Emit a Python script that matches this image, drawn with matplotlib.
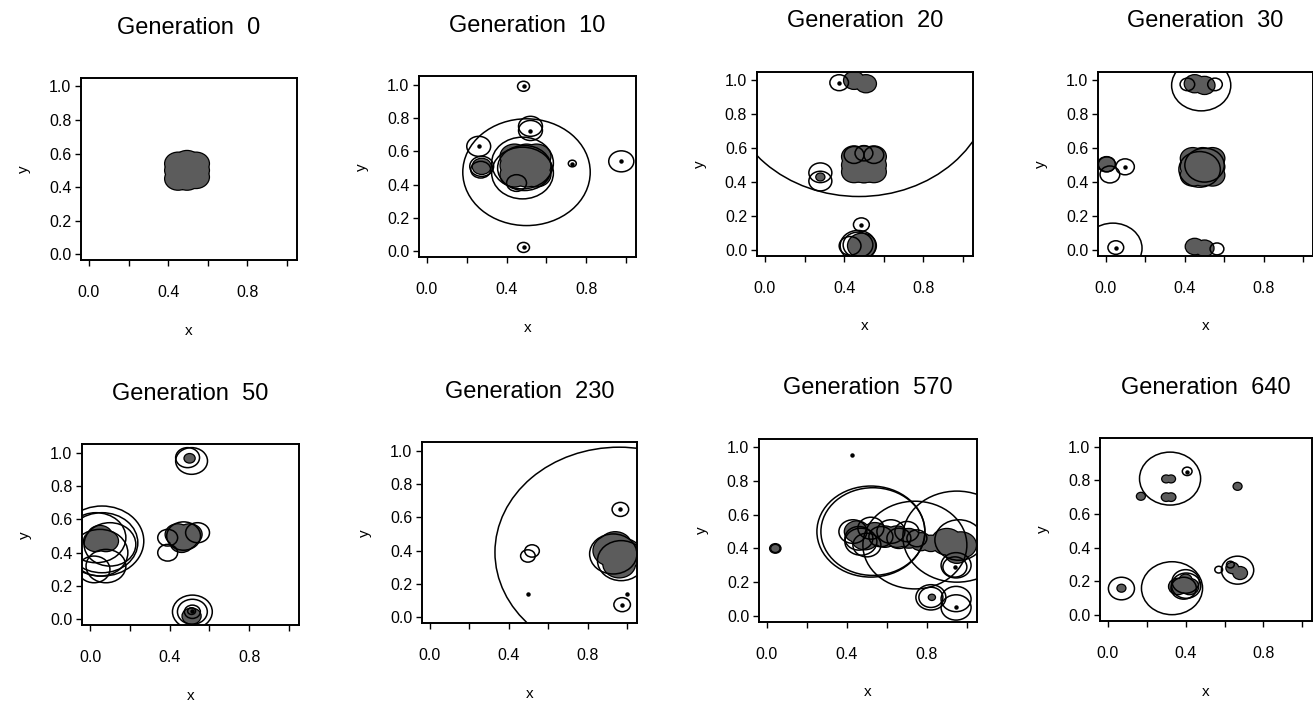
import matplotlib
matplotlib.use("Agg")
import matplotlib.pyplot as plt
from matplotlib.patches import Circle

plt.rcParams['font.family'] = ['Liberation Sans', 'DejaVu Sans']

generations = [0, 10, 20, 30, 50, 230, 570, 640]

# (x, y, radius) of grey filled circles, outline circles, and centre dots
g0_fill = [(0.45, 0.54, 0.065), (0.54, 0.54, 0.065), (0.45, 0.45, 0.065),
           (0.54, 0.46, 0.065), (0.495, 0.50, 0.095), (0.495, 0.55, 0.065),
           (0.495, 0.45, 0.065), (0.45, 0.50, 0.065), (0.54, 0.50, 0.065)]
g0_rings = []
g0_dots = []

g10_fill = [(0.44, 0.57, 0.07), (0.55, 0.57, 0.07), (0.44, 0.46, 0.07),
            (0.55, 0.46, 0.07), (0.50, 0.515, 0.10), (0.50, 0.57, 0.07),
            (0.50, 0.46, 0.07), (0.44, 0.515, 0.07), (0.55, 0.515, 0.07),
            (0.275, 0.51, 0.045)]
g10_rings = [(0.50, 0.475, 0.32), (0.48, 0.53, 0.155), (0.48, 0.47, 0.155),
             (0.49, 0.50, 0.135), (0.45, 0.41, 0.05), (0.485, 0.99, 0.03),
             (0.485, 0.024, 0.03), (0.976, 0.54, 0.063), (0.73, 0.527, 0.02),
             (0.52, 0.725, 0.06), (0.52, 0.75, 0.06), (0.26, 0.63, 0.06),
             (0.275, 0.51, 0.06), (0.27, 0.49, 0.05)]
g10_dots = [(0.485, 0.99), (0.485, 0.024), (0.976, 0.54), (0.73, 0.527),
            (0.52, 0.72), (0.26, 0.63)]

g20_fill = [(0.45, 1.0, 0.05), (0.51, 0.98, 0.05), (0.45, 0.55, 0.06),
            (0.55, 0.55, 0.06), (0.45, 0.46, 0.06), (0.55, 0.46, 0.06),
            (0.50, 0.50, 0.10), (0.50, 0.55, 0.06), (0.50, 0.46, 0.06),
            (0.45, 0.50, 0.06), (0.55, 0.50, 0.06), (0.49, 0.025, 0.07),
            (0.28, 0.43, 0.02)]
g20_rings = [(0.475, 0.985, 0.67), (0.375, 0.986, 0.047), (0.28, 0.455, 0.058),
             (0.28, 0.406, 0.058), (0.487, 0.149, 0.04), (0.47, 0.025, 0.09),
             (0.43, 0.024, 0.055), (0.47, 0.03, 0.075), (0.45, 0.56, 0.05),
             (0.55, 0.56, 0.05), (0.50, 0.57, 0.045)]
g20_dots = [(0.375, 0.986), (0.487, 0.149)]

g30_fill = [(0.45, 0.98, 0.05), (0.50, 0.97, 0.05), (0.44, 0.54, 0.06),
            (0.54, 0.54, 0.06), (0.44, 0.44, 0.06), (0.54, 0.44, 0.06),
            (0.49, 0.49, 0.10), (0.49, 0.54, 0.06), (0.49, 0.44, 0.06),
            (0.44, 0.49, 0.06), (0.54, 0.49, 0.06), (0.005, 0.505, 0.04),
            (0.45, 0.02, 0.045), (0.50, 0.01, 0.045)]
g30_rings = [(0.483, 0.97, 0.15), (0.413, 0.976, 0.037), (0.553, 0.976, 0.037),
             (0.475, 0.475, 0.105), (0.50, 0.50, 0.10), (0.003, 0.505, 0.045),
             (0.02, 0.445, 0.05), (0.097, 0.49, 0.047), (0.035, 0.01, 0.148),
             (0.05, 0.014, 0.04), (0.563, 0.006, 0.035)]
g30_dots = [(0.05, 0.014), (0.097, 0.49)]

g50_fill = [(0.44, 0.51, 0.06), (0.50, 0.51, 0.06), (0.46, 0.46, 0.055),
            (0.47, 0.49, 0.07), (0.03, 0.47, 0.06), (0.08, 0.47, 0.06),
            (0.05, 0.50, 0.06), (0.50, 0.966, 0.025), (0.51, 0.02, 0.045)]
g50_rings = [(0.51, 0.95, 0.08), (0.49, 0.97, 0.06), (0.39, 0.49, 0.05),
             (0.39, 0.40, 0.05), (0.54, 0.52, 0.06), (0.47, 0.50, 0.085),
             (0.06, 0.47, 0.21), (0.06, 0.46, 0.18), (0.03, 0.49, 0.15),
             (0.05, 0.40, 0.14), (0.08, 0.32, 0.10), (0.10, 0.45, 0.13),
             (0.02, 0.30, 0.08), (0.514, 0.046, 0.10), (0.514, 0.046, 0.075),
             (0.514, 0.046, 0.04), (0.51, 0.05, 0.02)]
g50_dots = [(0.51, 0.05)]

g230_fill = [(0.92, 0.40, 0.09), (0.98, 0.38, 0.09), (0.96, 0.32, 0.08),
             (0.94, 0.43, 0.08)]
g230_rings = [(0.96, 0.39, 0.63), (0.93, 0.38, 0.12), (0.97, 0.34, 0.12),
              (0.966, 0.647, 0.042), (0.975, 0.076, 0.042), (0.497, 0.368, 0.037),
              (0.518, 0.398, 0.037)]
g230_dots = [(0.966, 0.647), (0.975, 0.076), (0.50, 0.14), (1.0, 0.14)]

g570_fill = [(0.45, 0.50, 0.06), (0.49, 0.46, 0.065), (0.54, 0.49, 0.06),
             (0.59, 0.47, 0.06), (0.65, 0.47, 0.06), (0.71, 0.46, 0.055),
             (0.77, 0.44, 0.05), (0.82, 0.43, 0.045), (0.90, 0.44, 0.075),
             (0.97, 0.42, 0.075), (0.95, 0.37, 0.055), (0.042, 0.40, 0.02),
             (0.825, 0.11, 0.015)]
g570_rings = [(0.52, 0.50, 0.27), (0.53, 0.50, 0.26), (0.74, 0.42, 0.26),
              (0.95, 0.47, 0.27), (0.96, 0.45, 0.12), (0.946, 0.30, 0.075),
              (0.43, 0.50, 0.07), (0.46, 0.46, 0.07), (0.50, 0.42, 0.07),
              (0.52, 0.52, 0.065), (0.57, 0.47, 0.06), (0.62, 0.50, 0.07),
              (0.66, 0.46, 0.06), (0.70, 0.50, 0.06), (0.75, 0.46, 0.05),
              (0.47, 0.44, 0.08), (0.042, 0.40, 0.028), (0.82, 0.11, 0.075),
              (0.82, 0.11, 0.06), (0.946, 0.10, 0.075), (0.946, 0.05, 0.075),
              (0.94, 0.29, 0.06)]
g570_dots = [(0.424, 0.955), (0.946, 0.05), (0.94, 0.29)]

g640_fill = [(0.30, 0.808, 0.02), (0.325, 0.808, 0.02), (0.30, 0.70, 0.022),
             (0.325, 0.70, 0.022), (0.17, 0.705, 0.02), (0.667, 0.764, 0.02),
             (0.07, 0.16, 0.02), (0.36, 0.17, 0.045), (0.42, 0.17, 0.045),
             (0.40, 0.21, 0.03), (0.64, 0.28, 0.03), (0.68, 0.25, 0.035)]
g640_rings = [(0.32, 0.81, 0.157), (0.408, 0.853, 0.025), (0.07, 0.158, 0.067),
              (0.33, 0.16, 0.157), (0.40, 0.20, 0.07), (0.403, 0.175, 0.075),
              (0.39, 0.16, 0.065), (0.667, 0.267, 0.083), (0.57, 0.27, 0.02),
              (0.63, 0.30, 0.02)]
g640_dots = [(0.408, 0.85)]

fills = [g0_fill, g10_fill, g20_fill, g30_fill, g50_fill, g230_fill, g570_fill, g640_fill]
rings = [g0_rings, g10_rings, g20_rings, g30_rings, g50_rings, g230_rings, g570_rings, g640_rings]
dots = [g0_dots, g10_dots, g20_dots, g30_dots, g50_dots, g230_dots, g570_dots, g640_dots]

# axes boxes in figure fractions (left, bottom, width, height)
boxes = [(0.0617, 0.629, 0.1645, 0.2596), (0.3191, 0.633, 0.1653, 0.2582),
         (0.5765, 0.635, 0.1645, 0.2625), (0.8363, 0.635, 0.1637, 0.2625),
         (0.0625, 0.108, 0.1653, 0.2582), (0.3214, 0.111, 0.1637, 0.2582),
         (0.5780, 0.113, 0.1660, 0.2610), (0.8378, 0.114, 0.1615, 0.2610)]

grey = '#5c5c5c'

fig = plt.figure(figsize=(13.13, 7.01), dpi=100)

for i, g in enumerate(generations):
    ax = fig.add_axes(boxes[i])
    # filled blobs: outline pass then face pass to hide inner edges
    for (x, y, r) in fills[i]:
        ax.add_patch(Circle((x, y), r, facecolor=grey, edgecolor='black', lw=1.8))
    for (x, y, r) in fills[i]:
        ax.add_patch(Circle((x, y), r, facecolor=grey, edgecolor='none'))
    for (x, y, r) in rings[i]:
        ax.add_patch(Circle((x, y), r, facecolor='none', edgecolor='black', lw=1.1))
    if dots[i]:
        ax.plot([d[0] for d in dots[i]], [d[1] for d in dots[i]], 'o',
                color='black', markersize=2.2)

    ax.set_xlim(-0.04, 1.05)
    ax.set_ylim(-0.035, 1.05)
    ax.set_xticks([0.0, 0.2, 0.4, 0.6, 0.8, 1.0])
    ax.set_xticklabels(['0.0', '', '0.4', '', '0.8', ''])
    ax.set_yticks([0.0, 0.2, 0.4, 0.6, 0.8, 1.0])
    ax.set_yticklabels(['0.0', '0.2', '0.4', '0.6', '0.8', '1.0'])
    ax.tick_params(axis='x', length=4, width=1, pad=14, labelsize=11.5)
    ax.tick_params(axis='y', length=4, width=1, pad=3, labelsize=11.5)
    for s in ax.spines.values():
        s.set_linewidth(1.4)
    ax.set_xlabel('x', fontsize=11, labelpad=17)
    ax.set_ylabel('y', fontsize=11, labelpad=13)
    ax.set_title(f'Generation  {g}', fontsize=17, pad=32)

plt.savefig('out.png', dpi=100)
